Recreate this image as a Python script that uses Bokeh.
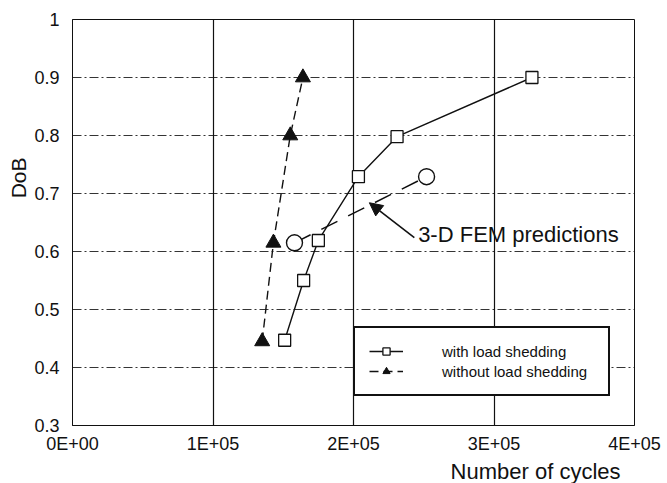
from bokeh.plotting import figure
from bokeh.models import (Range1d, FixedTicker, Legend, LegendItem, Label, Arrow,
                          NormalHead, Title)
from bokeh.embed import file_html
from bokeh.resources import INLINE

# ---- data ----
with_ls_x = [1.51e5, 1.645e5, 1.75e5, 2.035e5, 2.31e5, 3.27e5]
with_ls_y = [0.447, 0.55, 0.619, 0.729, 0.798, 0.90]
without_ls_x = [1.35e5, 1.43e5, 1.55e5, 1.64e5]
without_ls_y = [0.445, 0.615, 0.80, 0.90]
fem_x = [1.58e5, 2.52e5]
fem_y = [0.615, 0.729]

x_ticks = [0, 1e5, 2e5, 3e5, 4e5]
x_tick_labels = ["0E+00", "1E+05", "2E+05", "3E+05", "4E+05"]
y_ticks = [0.3, 0.4, 0.5, 0.6, 0.7, 0.8, 0.9, 1.0]
y_tick_labels = ["0.3", "0.4", "0.5", "0.6", "0.7", "0.8", "0.9", "1"]

series_labels = ["with load shedding", "without load shedding"]
annotation_text = "3-D FEM predictions"
x_title = "Number of cycles"
y_title = "DoB"

# annotation anchor points (data units)
arrow_start = (2.433e5, 0.624)
arrow_end = (2.113e5, 0.684)
annot_pos = (2.46e5, 0.630)

FONT = "Liberation Sans"
INK = "#111111"

p = figure(width=667, height=483, output_backend="svg", toolbar_location=None,
           x_range=Range1d(0, 4e5), y_range=Range1d(0.3, 1.0),
           min_border_left=72, min_border_right=33, min_border_top=19,
           min_border_bottom=57)
p.background_fill_color = "white"
p.border_fill_color = "white"
p.outline_line_color = INK
p.outline_line_width = 1

# axes
p.xaxis.ticker = FixedTicker(ticks=x_ticks)
p.xaxis.major_label_overrides = {t: l for t, l in zip(x_ticks, x_tick_labels)}
p.yaxis.ticker = FixedTicker(ticks=y_ticks)
p.yaxis.major_label_overrides = {t: l for t, l in zip(y_ticks, y_tick_labels)}
for ax in (p.xaxis, p.yaxis):
    ax.major_tick_line_color = None
    ax.minor_tick_line_color = None
    ax.major_label_text_font = FONT
    ax.major_label_text_font_size = "18px"
    ax.major_label_text_color = INK
    ax.axis_line_color = INK
p.xaxis.major_label_standoff = 2
p.yaxis.major_label_standoff = 7

# axis titles (as side titles so they can be offset like the reference)
p.add_layout(Title(text=y_title, align="right", offset=138, standoff=4,
                   text_font=FONT, text_font_size="21px", text_font_style="normal",
                   text_color=INK), "left")
p.add_layout(Title(text=x_title, align="right", offset=14, standoff=0,
                   text_font=FONT, text_font_size="22px", text_font_style="normal",
                   text_color=INK, text_line_height=1.0), "below")

# grid
p.xgrid.grid_line_color = INK
p.xgrid.grid_line_width = 1.2
p.ygrid.grid_line_color = INK
p.ygrid.grid_line_width = 1
p.ygrid.grid_line_dash = "9 3 2 3"
p.ygrid.grid_line_alpha = 0.85

# series
r1l = p.line(with_ls_x, with_ls_y, line_color=INK, line_width=1.4)
r1s = p.scatter(with_ls_x, with_ls_y, marker="square", size=12,
                fill_color="white", line_color=INK, line_width=1.3)
r2l = p.line(without_ls_x, without_ls_y, line_color=INK, line_width=1.4,
             line_dash="9 5")
r2s = p.scatter(without_ls_x, without_ls_y, marker="triangle", size=15,
                fill_color=INK, line_color=INK)
r3l = p.line(fem_x, fem_y, line_color=INK, line_width=1.5, line_dash="18 12")
r3s = p.scatter(fem_x, fem_y, marker="circle", size=16,
                fill_color="white", line_color=INK, line_width=1.4)

# annotation
p.add_layout(Arrow(end=NormalHead(size=13, fill_color=INK, line_color=INK),
                   x_start=arrow_start[0], y_start=arrow_start[1],
                   x_end=arrow_end[0], y_end=arrow_end[1],
                   line_color=INK, line_width=1.6))
p.add_layout(Label(x=annot_pos[0], y=annot_pos[1], text=annotation_text,
                   text_font=FONT, text_font_size="22px",
                   text_color=INK, text_align="left", text_baseline="middle"))

# legend
legend = Legend(items=[LegendItem(label=series_labels[0], renderers=[r1l, r1s]),
                       LegendItem(label=series_labels[1], renderers=[r2l, r2s])],
                location=(281, 29), orientation="vertical",
                padding=14, spacing=2, margin=0,
                glyph_width=34, glyph_height=18, label_height=18,
                label_width=152, label_standoff=39,
                label_text_font=FONT, label_text_font_size="15px",
                label_text_color=INK,
                border_line_color=INK, border_line_width=2, border_line_alpha=1,
                background_fill_color="white", background_fill_alpha=1)
p.add_layout(legend, "center")

open("out.html", "w").write(file_html(p, INLINE))
